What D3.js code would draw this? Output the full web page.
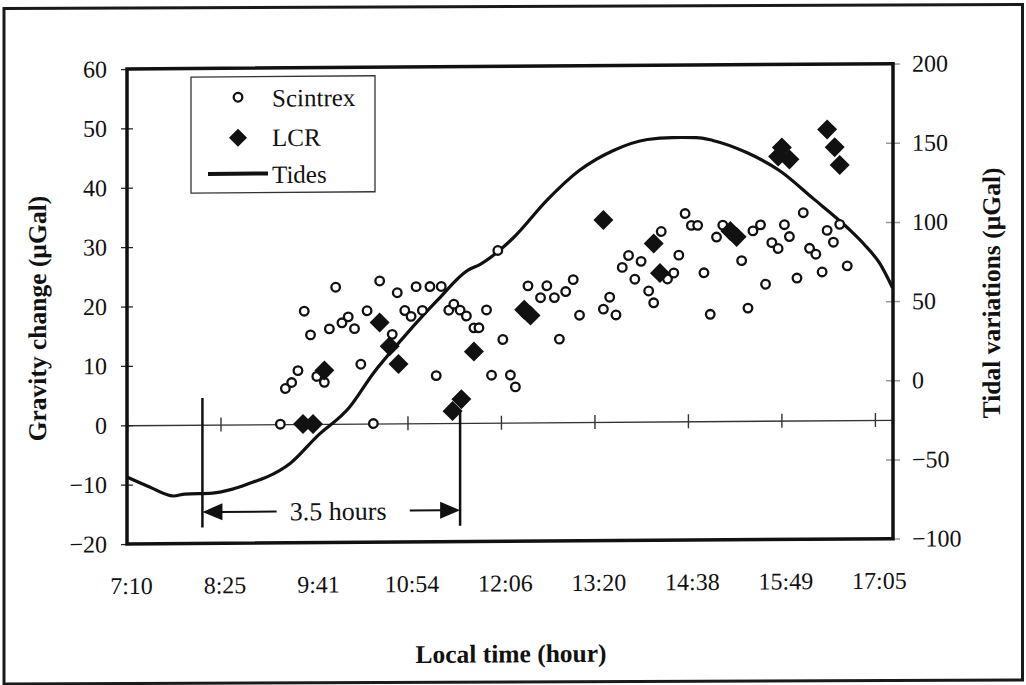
<!DOCTYPE html>
<html>
<head>
<meta charset="utf-8">
<script src="https://cdn.jsdelivr.net/npm/d3@7"></script>
<style>
  body { margin: 0; background: #fff; }
  svg { display: block; }
  text { font-family: "Liberation Serif", "Times New Roman", serif; }
</style>
</head>
<body>
<svg width="1026" height="685"></svg>
<script>
// axis labels
const timeLabels = ["7:10", "8:25", "9:41", "10:54", "12:06", "13:20", "14:38", "15:49", "17:05"];
const leftTicks = [60, 50, 40, 30, 20, 10, 0, -10, -20];
const rightTicks = [200, 150, 100, 50, 0, -50, -100];

// Scintrex readings (gravity change, µGal)
const scintrexTime = ["9:12","9:16","9:21","9:26","9:31","9:36","9:41","9:47","9:51","9:56",
  "10:01","10:06","10:11","10:16","10:21","10:26","10:31","10:41","10:45","10:51","10:56",
  "11:00","11:05","11:11","11:16","11:20","11:26","11:30","11:35","11:40","11:46","11:50","11:56",
  "12:00","12:05","12:09","12:15","12:19","12:29","12:39","12:44","12:50","12:54","12:59",
  "13:05","13:10","13:29","13:34","13:39","13:44","13:49","13:54","13:59",
  "14:05","14:09","14:15","14:20","14:25","14:29","14:34","14:39","14:44","14:49","14:54","14:59",
  "15:04","15:19","15:24","15:28","15:34","15:38","15:43","15:48","15:53","15:57",
  "16:03","16:08","16:13","16:18","16:23","16:27","16:32","16:37","16:43"];
const scintrexGal = [0,6,7,9,19,15,8,7,16,23,
  17,18,16,10,19,0,24,15,22,19,18,
  23,19,23,8,23,19,20,19,18,16,16,19,
  8,29,14,8,6,23,21,23,21,14,22,
  24,18,19,21,18,26,28,24,27,
  22,20,32,24,25,28,35,33,33,25,18,31,
  33,27,19,32,33,23,30,29,33,31,
  24,35,29,28,25,32,30,33,26];

// LCR readings (gravity change, µGal)
const lcrTime = ["9:30","9:38","9:47","10:31","10:39","10:46","11:29","11:36","11:46","12:26","12:31",
  "13:29","14:09","14:14","15:10","15:15","15:48","15:51","15:57","16:27","16:33","16:37"];
const lcrGal = [0,0,9,17,13,10,2,4,12,19,18,34,30,25,32,31,44.5,46,44,49,46,43];

// tidal variations (right axis, µGal)
const tideTime = ["7:10","7:28","7:47","7:56","8:18","8:34","8:50","9:01","9:20","9:41","10:07",
  "10:26","10:50","11:17","11:41","11:51","12:17","12:44","13:10","13:37","14:04","14:24",
  "14:43","14:56","15:23","15:49","16:16","16:43","16:56","17:09","17:19"];
const tideGal = [-57.7,-64.1,-69.9,-68.7,-68.2,-65.8,-61.5,-58.4,-49.7,-33,-14.6,
  6.8,29.3,52.6,71.3,75.1,91.4,115.2,134,146.4,153.2,154.3,
  154.2,152.3,144.5,133,115.1,96.7,86.4,73.7,58.5];

const toMin = s => { const p = s.split(":"); return +p[0] * 60 + +p[1]; };
const serif = "Liberation Serif, Times New Roman, serif";

const svg = d3.select("svg");
const pLeft = 127, pRight = 893, pTop = 69, pBottom = 544;

const x = d3.scaleLinear().domain([430, 1039.4]).range([pLeft, pRight]);
const yL = d3.scaleLinear().domain([-20, 60]).range([pBottom, pTop]);
const yR = d3.scaleLinear().domain([-100, 200]).range([pBottom, pTop]);

// ticks are evenly spaced, labels come from the array
const tickMin = timeLabels.map((d, i) => 430 + i * 74.375);

// page frame (scan is a bit skewed)
svg.append("rect")
  .attr("x", 4).attr("y", 8.5).attr("width", 1018.5).attr("height", 675.5)
  .attr("transform", "translate(4,0) skewY(-0.22) translate(-4,0)")
  .attr("fill", "none").attr("stroke", "#1a1a1a").attr("stroke-width", 3);

const g = svg.append("g")
  .attr("transform", `translate(${pLeft},0) skewY(-0.4) translate(${-pLeft},0)`);

// zero line with crossing ticks
const zeroAxis = g.append("g")
  .attr("transform", `translate(0,${yL(0)})`)
  .call(d3.axisBottom(x).tickValues(tickMin).tickSize(7).tickSizeOuter(0).tickFormat(""));
zeroAxis.select(".domain").attr("stroke", "#333").attr("stroke-width", 1.4);
zeroAxis.selectAll(".tick line").attr("y1", -7).attr("stroke", "#333").attr("stroke-width", 1.4);

// time labels under the plot
const xLab = g.append("g")
  .attr("transform", `translate(0,${pBottom})`)
  .call(d3.axisBottom(x).tickValues(tickMin).tickSize(0).tickFormat((d, i) => timeLabels[i]));
xLab.select(".domain").remove();
xLab.attr("font-family", serif).attr("font-size", 24);
xLab.selectAll("text").attr("y", 50).attr("dy", null).attr("x", 4).attr("fill", "#111")
  .attr("font-family", serif);

// left axis
const axL = g.append("g")
  .attr("transform", `translate(${pLeft},0)`)
  .call(d3.axisLeft(yL).tickValues(leftTicks).tickSize(6).tickPadding(14));
axL.select(".domain").remove();
axL.attr("font-family", serif).attr("font-size", 24);
axL.selectAll(".tick line").attr("x1", 6).attr("stroke", "#222").attr("stroke-width", 1.3);
axL.selectAll("text").attr("fill", "#111").attr("font-family", serif);

// right axis
const axR = g.append("g")
  .attr("transform", `translate(${pRight},0)`)
  .call(d3.axisRight(yR).tickValues(rightTicks).tickSize(7).tickPadding(12));
axR.select(".domain").remove();
axR.attr("font-family", serif).attr("font-size", 24);
axR.selectAll(".tick line").attr("x1", -7).attr("stroke", "#999").attr("stroke-width", 1.5);
axR.selectAll("text").attr("fill", "#111").attr("font-family", serif);

// tides curve
const tides = tideTime.map((t, i) => ({ t: toMin(t), v: tideGal[i] }));
g.append("path")
  .datum(tides)
  .attr("fill", "none")
  .attr("stroke", "#111")
  .attr("stroke-width", 3.2)
  .attr("d", d3.line().x(d => x(d.t)).y(d => yR(d.v)).curve(d3.curveMonotoneX));

// 3.5 hours annotation
const ann = g.append("g").attr("stroke", "#111").attr("fill", "#111");
const mA = x(toMin("8:10")), mB = x(toMin("11:35"));
const ay = yL(-14.7);
ann.append("line").attr("x1", mA).attr("x2", mA).attr("y1", yL(4.5)).attr("y2", yL(-17.3)).attr("stroke-width", 2.5);
ann.append("line").attr("x1", mB).attr("x2", mB).attr("y1", yL(2)).attr("y2", yL(-17.3)).attr("stroke-width", 2.5);
ann.append("line").attr("x1", mA + 18).attr("x2", x(toMin("9:09"))).attr("y1", ay).attr("y2", ay).attr("stroke-width", 2);
ann.append("line").attr("x1", x(toMin("10:55"))).attr("x2", mB - 18).attr("y1", ay).attr("y2", ay).attr("stroke-width", 2);
ann.append("path").attr("stroke", "none")
  .attr("d", `M${mA},${ay}L${mA + 20},${ay - 8.5}L${mA + 20},${ay + 8.5}Z`);
ann.append("path").attr("stroke", "none")
  .attr("d", `M${mB},${ay}L${mB - 20},${ay - 8.5}L${mB - 20},${ay + 8.5}Z`);
g.append("text")
  .attr("x", x(toMin("9:58"))).attr("y", yL(-16.2))
  .attr("text-anchor", "middle").attr("font-size", 26).attr("fill", "#111")
  .attr("font-family", serif)
  .text("3.5 hours");

// Scintrex open circles
g.selectAll(".scin")
  .data(scintrexTime.map((t, i) => ({ t: toMin(t), v: scintrexGal[i] })))
  .enter()
  .append("circle")
  .attr("class", "scin")
  .attr("cx", d => x(d.t))
  .attr("cy", d => yL(d.v))
  .attr("r", 4.3)
  .attr("fill", "#fff")
  .attr("stroke", "#111")
  .attr("stroke-width", 2.3);

// LCR diamonds
const diamond = d3.symbol().type(d3.symbolSquare).size(200);
g.selectAll(".lcr")
  .data(lcrTime.map((t, i) => ({ t: toMin(t), v: lcrGal[i] })))
  .enter()
  .append("path")
  .attr("class", "lcr")
  .attr("d", diamond)
  .attr("transform", d => `translate(${x(d.t)},${yL(d.v)}) rotate(45)`)
  .attr("fill", "#111");

// plot border
g.append("rect")
  .attr("x", pLeft).attr("y", pTop)
  .attr("width", pRight - pLeft).attr("height", pBottom - pTop)
  .attr("fill", "none").attr("stroke", "#111").attr("stroke-width", 3.5);

// legend
const lg = g.append("g");
lg.append("rect")
  .attr("x", 191).attr("y", 77.5).attr("width", 184).attr("height", 116)
  .attr("fill", "#fff").attr("stroke", "#333").attr("stroke-width", 1.3);
lg.append("circle").attr("cx", 238).attr("cy", 98).attr("r", 4.3)
  .attr("fill", "#fff").attr("stroke", "#111").attr("stroke-width", 2.3);
lg.append("path").attr("d", d3.symbol().type(d3.symbolSquare).size(162))
  .attr("transform", "translate(238,138.5) rotate(45)").attr("fill", "#111");
lg.append("line").attr("x1", 208).attr("x2", 268).attr("y1", 174.5).attr("y2", 174.5)
  .attr("stroke", "#111").attr("stroke-width", 4);
const legendNames = ["Scintrex", "LCR", "Tides"];
lg.selectAll(".lt")
  .data(legendNames)
  .enter()
  .append("text")
  .attr("class", "lt")
  .attr("x", 272)
  .attr("y", (d, i) => [107.5, 147, 184][i])
  .attr("font-size", 25)
  .attr("font-family", serif)
  .attr("fill", "#111")
  .text(d => d);

// axis titles
g.append("text")
  .attr("x", 511).attr("y", 665)
  .attr("text-anchor", "middle").attr("font-size", 25.5).attr("font-weight", "bold").attr("fill", "#111")
  .attr("font-family", serif)
  .text("Local time (hour)");
g.append("text")
  .attr("transform", "translate(46,318) rotate(-90)")
  .attr("text-anchor", "middle").attr("font-size", 25.5).attr("font-weight", "bold").attr("fill", "#111")
  .attr("font-family", serif)
  .text("Gravity change (µGal)");
g.append("text")
  .attr("transform", "translate(1000,299) rotate(-90)")
  .attr("text-anchor", "middle").attr("font-size", 25.5).attr("font-weight", "bold").attr("fill", "#111")
  .attr("font-family", serif)
  .text("Tidal variations (µGal)");
</script>
</body>
</html>
